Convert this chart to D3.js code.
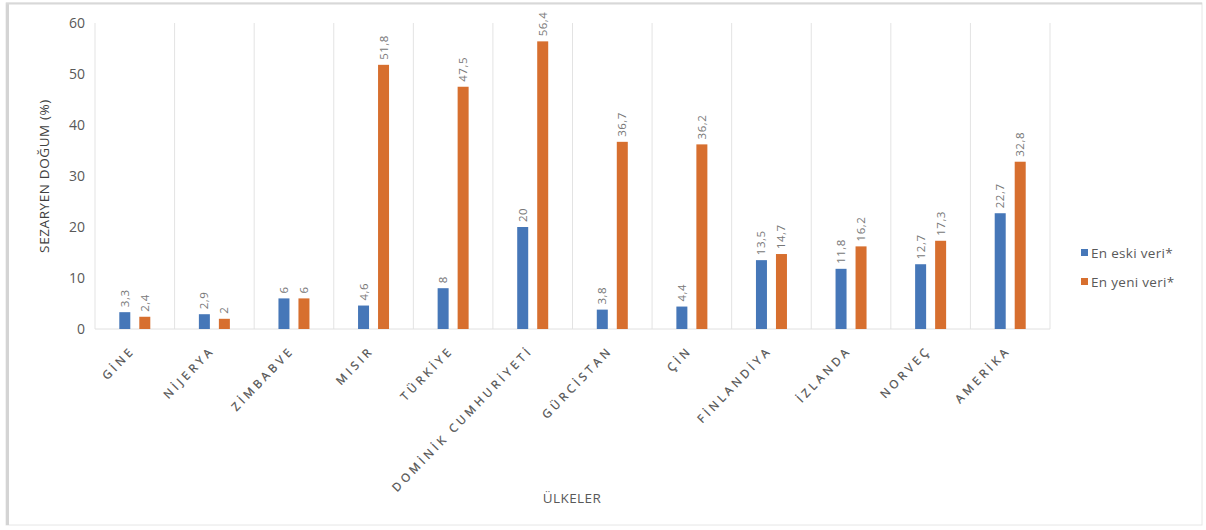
<html>
<head>
<meta charset="utf-8">
<script src="https://cdn.jsdelivr.net/npm/d3@7"></script>
<style>
  body { margin: 0; background: #fff; }
  text { font-family: "Open Sans", "Liberation Sans", sans-serif; }
</style>
</head>
<body>
<div id="container"></div>
<script>
// data
const countries = ["GİNE", "NİJERYA", "ZİMBABVE", "MISIR", "TÜRKİYE", "DOMİNİK CUMHURİYETİ",
  "GÜRCİSTAN", "ÇİN", "FİNLANDİYA", "İZLANDA", "NORVEÇ", "AMERİKA"];
const oldest = [3.3, 2.9, 6, 4.6, 8, 20, 3.8, 4.4, 13.5, 11.8, 12.7, 22.7];
const newest = [2.4, 2, 6, 51.8, 47.5, 56.4, 36.7, 36.2, 14.7, 16.2, 17.3, 32.8];
const seriesNames = ["En eski veri*", "En yeni veri*"];
const yTicks = [0, 10, 20, 30, 40, 50, 60];

const width = 1206, height = 530;
const margin = { left: 95, right: 156, top: 23, bottom: 201 };
const blue = "#4677b8", orange = "#d76f2f";
const fmt = d => String(d).replace(".", ",");

const svg = d3.select("#container").append("svg")
  .attr("width", width)
  .attr("height", height);

// chart frame
svg.append("rect")
  .attr("x", 6).attr("y", 3)
  .attr("width", 1196).attr("height", 522)
  .attr("fill", "#fff")
  .attr("stroke", "#e6e6e6");
svg.append("line")
  .attr("x1", 7.5).attr("x2", 7.5).attr("y1", 3).attr("y2", 525)
  .attr("stroke", "#d4d4d4").attr("stroke-width", 3);
svg.append("line")
  .attr("x1", 6).attr("x2", 1202).attr("y1", 3.5).attr("y2", 3.5)
  .attr("stroke", "#d8d8d8").attr("stroke-width", 2);

const x = d3.scaleBand()
  .domain(countries)
  .range([margin.left, width - margin.right]);

const y = d3.scaleLinear()
  .domain([0, 60])
  .range([height - margin.bottom, margin.top]);

// vertical gridlines between categories
const edges = countries.map(c => x(c)).concat([x.range()[1]]);
svg.append("g")
  .selectAll("line")
  .data(edges)
  .join("line")
  .attr("x1", d => d).attr("x2", d => d)
  .attr("y1", y(60)).attr("y2", y(0))
  .attr("stroke", "#e3e3e3");

// baseline
svg.append("line")
  .attr("x1", x.range()[0]).attr("x2", x.range()[1])
  .attr("y1", y(0)).attr("y2", y(0))
  .attr("stroke", "#e0e0e0");

// y axis labels
const yAxis = svg.append("g")
  .attr("transform", `translate(${margin.left},0)`)
  .call(d3.axisLeft(y).tickValues(yTicks).tickSize(0).tickPadding(10));
yAxis.select(".domain").remove();
yAxis.selectAll("text")
  .attr("font-size", 14)
  .attr("fill", "#595959")
  .style("font-family", "'Open Sans', sans-serif");

// bars
const series = [
  { name: seriesNames[0], values: oldest, color: blue, dx: -10 },
  { name: seriesNames[1], values: newest, color: orange, dx: 10 }
];
const barW = 11;

series.forEach(s => {
  const g = svg.append("g");
  g.selectAll("rect")
    .data(countries)
    .join("rect")
    .attr("x", (c) => x(c) + x.bandwidth() / 2 + s.dx - barW / 2)
    .attr("y", (c, i) => y(s.values[i]))
    .attr("width", barW)
    .attr("height", (c, i) => y(0) - y(s.values[i]))
    .attr("fill", s.color);

  g.selectAll("text")
    .data(countries)
    .join("text")
    .attr("transform", (c, i) =>
      `translate(${x(c) + x.bandwidth() / 2 + s.dx + 4},${y(s.values[i]) - 5}) rotate(-90)`)
    .attr("font-size", 11.5)
    .attr("letter-spacing", 0.5)
    .attr("fill", "#777")
    .text((c, i) => fmt(s.values[i]));
});

// category labels, rotated
svg.append("g")
  .selectAll("text")
  .data(countries)
  .join("text")
  .attr("transform", c => `translate(${x(c) + x.bandwidth() / 2 + 1},${y(0) + 22}) rotate(-46)`)
  .attr("text-anchor", "end")
  .attr("font-size", 11.5)
  .attr("letter-spacing", 3.6)
  .attr("fill", "#505050")
  .attr("stroke", "#505050")
  .attr("stroke-width", 0.25)
  .text(c => c);

// axis titles
svg.append("text")
  .attr("transform", `translate(49,${(y(0) + y(60)) / 2}) rotate(-90)`)
  .attr("text-anchor", "middle")
  .attr("font-size", 13.5)
  .attr("letter-spacing", 0.6)
  .attr("fill", "#404040")
  .text("SEZARYEN DOĞUM  (%)");

svg.append("text")
  .attr("x", 572)
  .attr("y", 503)
  .attr("text-anchor", "middle")
  .attr("font-size", 13.5)
  .attr("letter-spacing", 0.4)
  .attr("fill", "#595959")
  .text("ÜLKELER");

// legend
const legend = svg.append("g")
  .selectAll("g")
  .data(series)
  .join("g")
  .attr("transform", (d, i) => `translate(1081,${253 + i * 29})`);
legend.append("rect")
  .attr("x", 0).attr("y", -4)
  .attr("width", 7).attr("height", 7)
  .attr("fill", d => d.color);
legend.append("text")
  .attr("x", 10).attr("y", 5)
  .attr("font-size", 13.5)
  .attr("letter-spacing", 0.3)
  .attr("fill", "#595959")
  .text(d => d.name);
</script>
</body>
</html>
